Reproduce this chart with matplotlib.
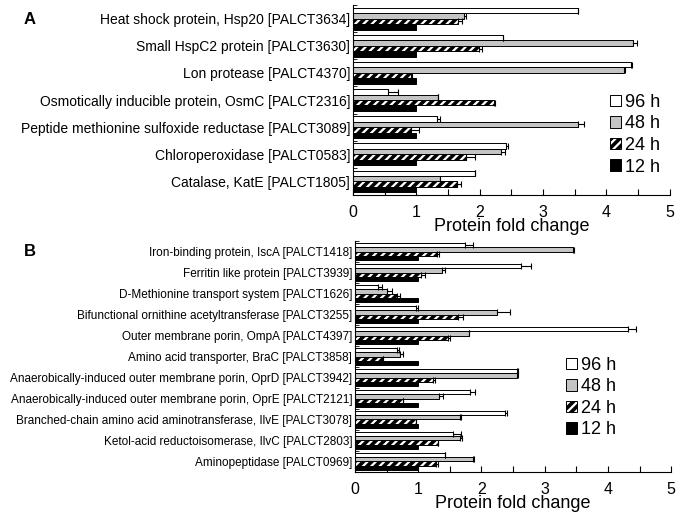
import numpy as np
import matplotlib
matplotlib.use("Agg")
import matplotlib.pyplot as plt
from matplotlib.patches import Patch

plt.rcParams['font.family'] = ['Liberation Sans', 'DejaVu Sans']
plt.rcParams['hatch.linewidth'] = 2.6

# Panel A: oxidative / stress proteins
labels_a = [
    "Heat shock protein, Hsp20 [PALCT3634]",
    "Small HspC2 protein [PALCT3630]",
    "Lon protease [PALCT4370]",
    "Osmotically inducible protein, OsmC [PALCT2316]",
    "Peptide methionine sulfoxide reductase [PALCT3089]",
    "Chloroperoxidase [PALCT0583]",
    "Catalase, KatE [PALCT1805]",
]
a_96 = [3.55, 2.37, 4.38, 0.55, 1.32, 2.42, 1.92]
a_48 = [1.76, 4.42, 4.28, 1.34, 3.55, 2.33, 1.37]
a_24 = [1.66, 1.99, 0.92, 2.22, 0.92, 1.78, 1.64]
a_12 = [1.0, 1.0, 1.0, 1.0, 1.0, 1.0, 1.0]
a_96_err = [0.0, 0.0, 0.03, 0.16, 0.05, 0.03, 0.0]
a_48_err = [0.03, 0.07, 0.02, 0.0, 0.10, 0.07, 0.0]
a_24_err = [0.06, 0.05, 0.02, 0.02, 0.12, 0.15, 0.06]

# Panel B: iron / transport / metabolism proteins
labels_b = [
    "Iron-binding protein, IscA [PALCT1418]",
    "Ferritin like protein [PALCT3939]",
    "D-Methionine transport system [PALCT1626]",
    "Bifunctional ornithine acetyltransferase [PALCT3255]",
    "Outer membrane porin, OmpA [PALCT4397]",
    "Amino acid transporter, BraC [PALCT3858]",
    "Anaerobically-induced outer membrane porin, OprD [PALCT3942]",
    "Anaerobically-induced outer membrane porin, OprE [PALCT2121]",
    "Branched-chain amino acid aminotransferase, IlvE [PALCT3078]",
    "Ketol-acid reductoisomerase, IlvC [PALCT2803]",
    "Aminopeptidase [PALCT0969]",
]
b_96 = [1.74, 2.63, 0.37, 0.97, 4.32, 0.66, 2.57, 1.82, 2.38, 1.55, 1.42]
b_48 = [3.44, 1.38, 0.51, 2.24, 1.81, 0.72, 2.57, 1.33, 1.66, 1.66, 1.87]
b_24 = [1.30, 1.05, 0.66, 1.63, 1.47, 0.45, 1.23, 0.76, 0.97, 1.32, 1.28]
b_12 = [1.0] * 11
b_96_err = [0.13, 0.16, 0.05, 0.03, 0.12, 0.04, 0.01, 0.08, 0.03, 0.13, 0.0]
b_48_err = [0.02, 0.04, 0.08, 0.21, 0.0, 0.04, 0.01, 0.07, 0.02, 0.04, 0.02]
b_24_err = [0.03, 0.05, 0.06, 0.08, 0.03, 0.0, 0.04, 0.0, 0.0, 0.0, 0.04]

series_names = ["96 h", "48 h", "24 h", "12 h"]
styles = [
    dict(facecolor="white", edgecolor="black"),
    dict(facecolor="#c4c4c4", edgecolor="black"),
    dict(facecolor="white", edgecolor="black", hatch="////"),
    dict(facecolor="black", edgecolor="black"),
]


def draw_panel(ax, labels, vals, errs, label_size, legend_anchor):
    n = len(labels)
    y = np.arange(n)
    h = 0.2
    offsets = [-1.5 * h, -0.5 * h, 0.5 * h, 1.5 * h]
    for v, e, off, st in zip(vals, errs, offsets, styles):
        xerr = None
        if e is not None:
            xerr = [np.zeros(n), e]
        ax.barh(y + off, v, height=h, linewidth=0.7, xerr=xerr,
                error_kw=dict(ecolor="black", elinewidth=0.8, capsize=2, capthick=0.8),
                **st)
    ax.set_ylim(n - 0.5, -0.5)
    ax.set_xlim(0, 5)
    ax.set_yticks(y)
    ax.set_yticklabels(labels, fontsize=label_size)
    ax.tick_params(axis="y", length=0, pad=2)
    ax.set_yticks(np.arange(n + 1) - 0.5, minor=True)
    ax.tick_params(axis="y", which="minor", direction="in", length=3, width=0.6)
    ax.set_xticks(range(6))
    ax.set_xticks(np.arange(0.5, 5, 1), minor=True)
    ax.tick_params(axis="x", which="both", direction="in", length=4, width=0.8,
                   labelsize=11.5, pad=7)
    ax.set_xlabel("Protein fold change", fontsize=13, labelpad=-1)
    for s in ["top", "right"]:
        ax.spines[s].set_visible(False)
    ax.spines["left"].set_linewidth(0.8)
    ax.spines["bottom"].set_linewidth(0.8)
    handles = [Patch(linewidth=0.7, **st) for st in styles]
    ax.legend(handles, series_names, loc="upper left", bbox_to_anchor=legend_anchor,
              frameon=False, fontsize=13, handlelength=0.6, handleheight=0.6,
              handletextpad=0.2, labelspacing=0.25, borderaxespad=0)


fig = plt.figure(figsize=(6.8, 5.13), dpi=100)
ax_a = fig.add_axes([0.519, 0.620, 0.466, 0.370])
ax_b = fig.add_axes([0.522, 0.080, 0.465, 0.450])

draw_panel(ax_a, labels_a, [a_96, a_48, a_24, a_12],
           [a_96_err, a_48_err, a_24_err, None], 10, (0.79, 0.57))
draw_panel(ax_b, labels_b, [b_96, b_48, b_24, b_12],
           [b_96_err, b_48_err, b_24_err, None], 8.5, (0.645, 0.53))

fig.text(0.035, 0.962, "A", fontsize=12, fontweight="bold", va="center")
fig.text(0.035, 0.51, "B", fontsize=12, fontweight="bold", va="center")

fig.savefig("out.png", dpi=100)
